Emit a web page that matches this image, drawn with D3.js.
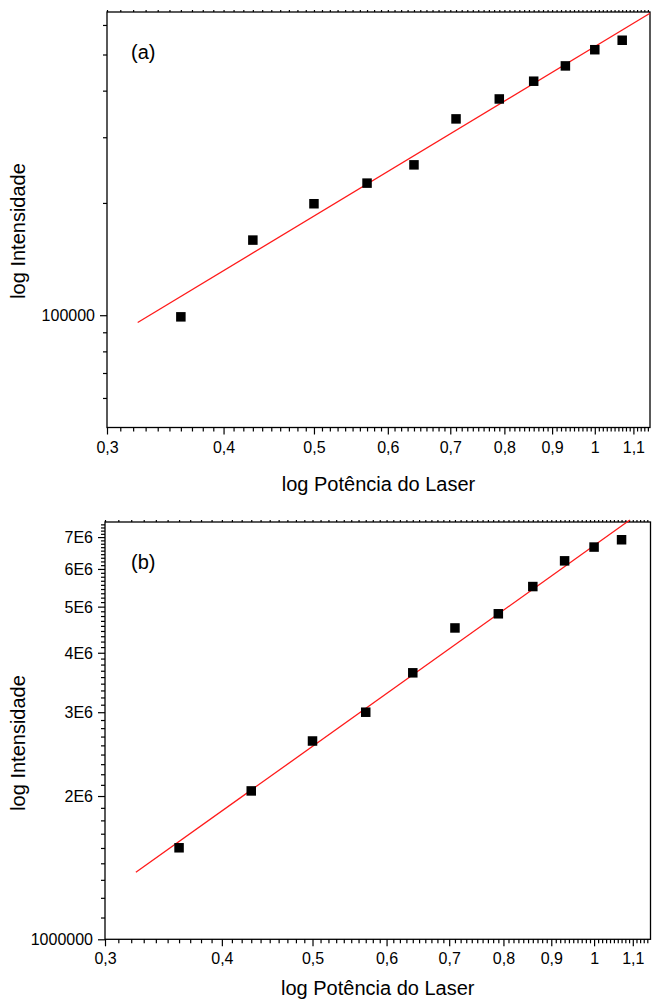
<!DOCTYPE html>
<html>
<head>
<meta charset="utf-8">
<script src="https://cdn.jsdelivr.net/npm/d3@7"></script>
<style>
  html, body { margin: 0; padding: 0; background: #fff; }
  svg { display: block; font-family: "Liberation Sans", Arial, sans-serif; }
</style>
</head>
<body>
<svg id="chart" width="652" height="1000"></svg>
<script>
// ---------- data ----------
const laserPower = [0.36, 0.43, 0.50, 0.57, 0.64, 0.71, 0.79, 0.86, 0.93, 1.00, 1.07];
const intensityA = [99000, 159000, 199000, 226000, 253000, 336000, 380000, 424000, 466000, 515000, 546000];
const intensityB = [1557000, 2050000, 2610000, 3000000, 3630000, 4510000, 4830000, 5510000, 6240000, 6670000, 6910000];

// linear fit (straight on log-log axes), given by its end points
const fitAX = [0.3236, 1.146];
const fitAY = [95600, 645000];
const fitBX = [0.3237, 1.092];
const fitBY = [1383000, 7600000];

const xTickValues = [0.3, 0.4, 0.5, 0.6, 0.7, 0.8, 0.9, 1.0, 1.1];
const xTickLabels = ["0,3", "0,4", "0,5", "0,6", "0,7", "0,8", "0,9", "1", "1,1"];

const yTickValuesA = [100000];
const yTickLabelsA = ["100000"];
const yMinorA = [60000, 70000, 80000, 90000, 200000, 300000, 400000, 500000, 600000];

const yTickValuesB = [1000000, 2000000, 3000000, 4000000, 5000000, 6000000, 7000000];
const yTickLabelsB = ["1000000", "2E6", "3E6", "4E6", "5E6", "6E6", "7E6"];

const panelLabels = ["(a)", "(b)"];
const xTitle = "log Potência do Laser";
const yTitle = "log Intensidade";

// ---------- drawing ----------
const svg = d3.select("#chart");
const xMinor = d3.range(31, 115).map(d => d / 100).filter(v => Math.abs(v * 10 - Math.round(v * 10)) > 1e-6);

function panel(cfg) {
  const x = d3.scaleLog().domain(cfg.xDomain).range([cfg.left, cfg.right]);
  const y = d3.scaleLog().domain(cfg.yDomain).range([cfg.bottom, cfg.top]);
  const g = svg.append("g");

  // frame
  g.append("rect")
    .attr("x", cfg.left).attr("y", cfg.top)
    .attr("width", cfg.right - cfg.left).attr("height", cfg.bottom - cfg.top)
    .attr("fill", "none").attr("stroke", "#000").attr("stroke-width", 1.3);

  // bottom axis
  const xAxis = d3.axisBottom(x).tickValues(xTickValues)
    .tickFormat((d, i) => xTickLabels[i]).tickSize(7).tickPadding(4);
  const gx = g.append("g").attr("transform", `translate(0,${cfg.bottom})`).call(xAxis);
  const gxm = g.append("g").attr("transform", `translate(0,${cfg.bottom})`)
    .call(d3.axisBottom(x).tickValues(xMinor).tickFormat("").tickSize(4));
  // top axis (small outward ticks)
  const gxt = g.append("g").attr("transform", `translate(0,${cfg.top})`)
    .call(d3.axisTop(x).tickValues(xTickValues.concat(xMinor)).tickFormat("").tickSize(2));

  // left axis
  const yAxis = d3.axisLeft(y).tickValues(cfg.yTicks)
    .tickFormat((d, i) => cfg.yLabels[i]).tickSize(7).tickPadding(5);
  const gy = g.append("g").attr("transform", `translate(${cfg.left},0)`).call(yAxis);
  const gym = g.append("g").attr("transform", `translate(${cfg.left},0)`)
    .call(d3.axisLeft(y).tickValues(cfg.yMinor).tickFormat("").tickSize(4));

  [gx, gxm, gxt, gy, gym].forEach(a => {
    a.select(".domain").remove();
    a.selectAll("line").attr("stroke", "#000").attr("stroke-width", 1.2);
    a.selectAll("text").attr("font-family", "Liberation Sans, Arial, sans-serif")
      .attr("font-size", 16).attr("fill", "#000");
  });
  gx.selectAll("text").attr("dy", null).attr("y", 25);
  gy.selectAll("text").attr("dy", "0.35em");

  // fit line
  const line = d3.line().x(d => x(d[0])).y(d => y(d[1]));
  g.append("path")
    .datum(cfg.fitX.map((v, i) => [v, cfg.fitY[i]]))
    .attr("d", line).attr("fill", "none")
    .attr("stroke", "#ff1a1a").attr("stroke-width", 1.3);

  // points
  const s = 9.5;
  g.selectAll("rect.pt").data(laserPower.map((v, i) => [v, cfg.values[i]]))
    .join("rect").attr("class", "pt")
    .attr("x", d => x(d[0]) - s / 2).attr("y", d => y(d[1]) - s / 2)
    .attr("width", s).attr("height", s).attr("fill", "#000");

  // panel label
  g.append("text").attr("x", 131).attr("y", cfg.top + 47)
    .attr("font-size", 20).text(cfg.label);

  // axis titles
  g.append("text").attr("x", (cfg.left + cfg.right) / 2).attr("y", Math.min(cfg.bottom + 63, 995))
    .attr("text-anchor", "middle").attr("font-size", 20).text(xTitle);
  g.append("text")
    .attr("transform", `translate(25,${cfg.yTitleY}) rotate(-90)`)
    .attr("text-anchor", "middle").attr("font-size", 20).text(yTitle);
}

panel({
  left: 107, right: 650, top: 12, bottom: 427.5,
  xDomain: [0.3, 1.146], yDomain: [50000, 650000],
  yTicks: yTickValuesA, yLabels: yTickLabelsA, yMinor: yMinorA,
  values: intensityA, fitX: fitAX, fitY: fitAY,
  label: panelLabels[0], yTitleY: 231
});

panel({
  left: 105, right: 650.5, top: 522, bottom: 939.3,
  xDomain: [0.3, 1.149], yDomain: [1000000, 7530000],
  yTicks: yTickValuesB, yLabels: yTickLabelsB,
  yMinor: d3.range(1, 8).flatMap(k => d3.range(1, 9).map(j => (k + j / 9) * 1e6)).filter(v => v < 7530000),
  values: intensityB, fitX: fitBX, fitY: fitBY,
  label: panelLabels[1], yTitleY: 743
});
</script>
</body>
</html>
